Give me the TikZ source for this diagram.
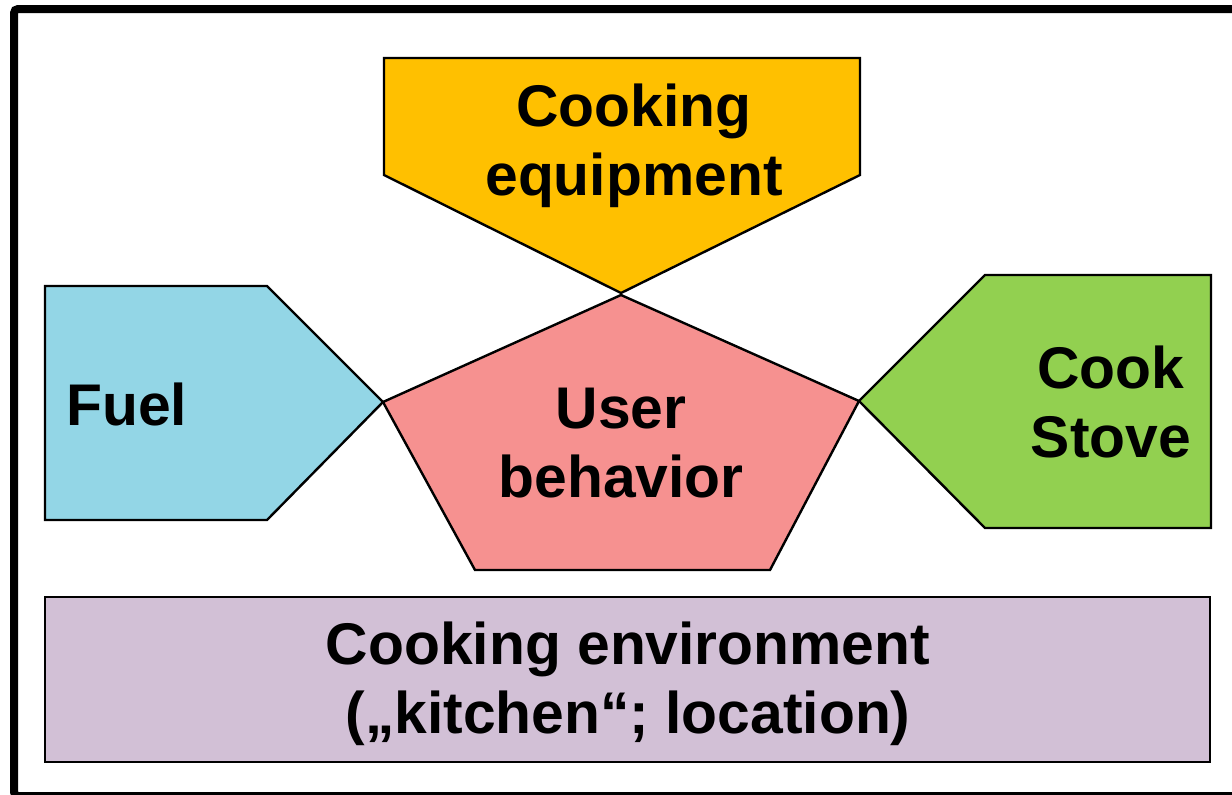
\documentclass[tikz,border=0pt]{standalone}
\usepackage{fontspec}
\setmainfont{Liberation Sans}
\usetikzlibrary{positioning}

\definecolor{equipcol}{HTML}{FFC000}
\definecolor{usercol}{HTML}{F69190}
\definecolor{fuelcol}{HTML}{93D6E6}
\definecolor{stovecol}{HTML}{92D050}
\definecolor{envcol}{HTML}{D2C0D6}

\begin{document}
\begin{tikzpicture}[x=0.5pt,
					y=-0.5pt,
					piece/.style={draw=black, line width=1.2pt, line join=miter},
					caption/.style={font=\bfseries\fontsize{29.4}{34.5}\selectfont, align=center, inner sep=0pt}]

					\useasboundingbox (0,0) rectangle (1232,794);
					\draw[line width=4pt, rounded corners=2pt] (14,9) rectangle (1240,796);

					\draw[piece, fill=equipcol] (384,58) -- (860,58) -- (860,175) -- (621,293) -- (384,175) -- cycle;
					\draw[piece, fill=usercol] (621,295) -- (859,401) -- (770,570) -- (475,570) -- (383,402) -- cycle;
					\draw[piece, fill=fuelcol] (45,286) -- (267,286) -- (383,402) -- (267,520) -- (45,520) -- cycle;
					\draw[piece, fill=stovecol] (1211,275) -- (985,275) -- (859,401) -- (985,528) -- (1211,528) -- cycle;
					\draw[piece, fill=envcol] (45,597) rectangle (1210,762);

					% base sits on the last line
					\node[caption, anchor=base] (equip) at (634,195) {Cooking\\equipment};
					\node[caption, anchor=base] (user) at (621,497) {User\\behavior};
					\node[caption, anchor=base west] (fuel) at (66,425) {Fuel};
					\node[caption, anchor=base] (stove) at (1111,457) {Cook\\Stove};
					\node[caption, anchor=base] (env) at (628,733) {Cooking environment\\(„kitchen“; location)};
				\end{tikzpicture}
\end{document}
